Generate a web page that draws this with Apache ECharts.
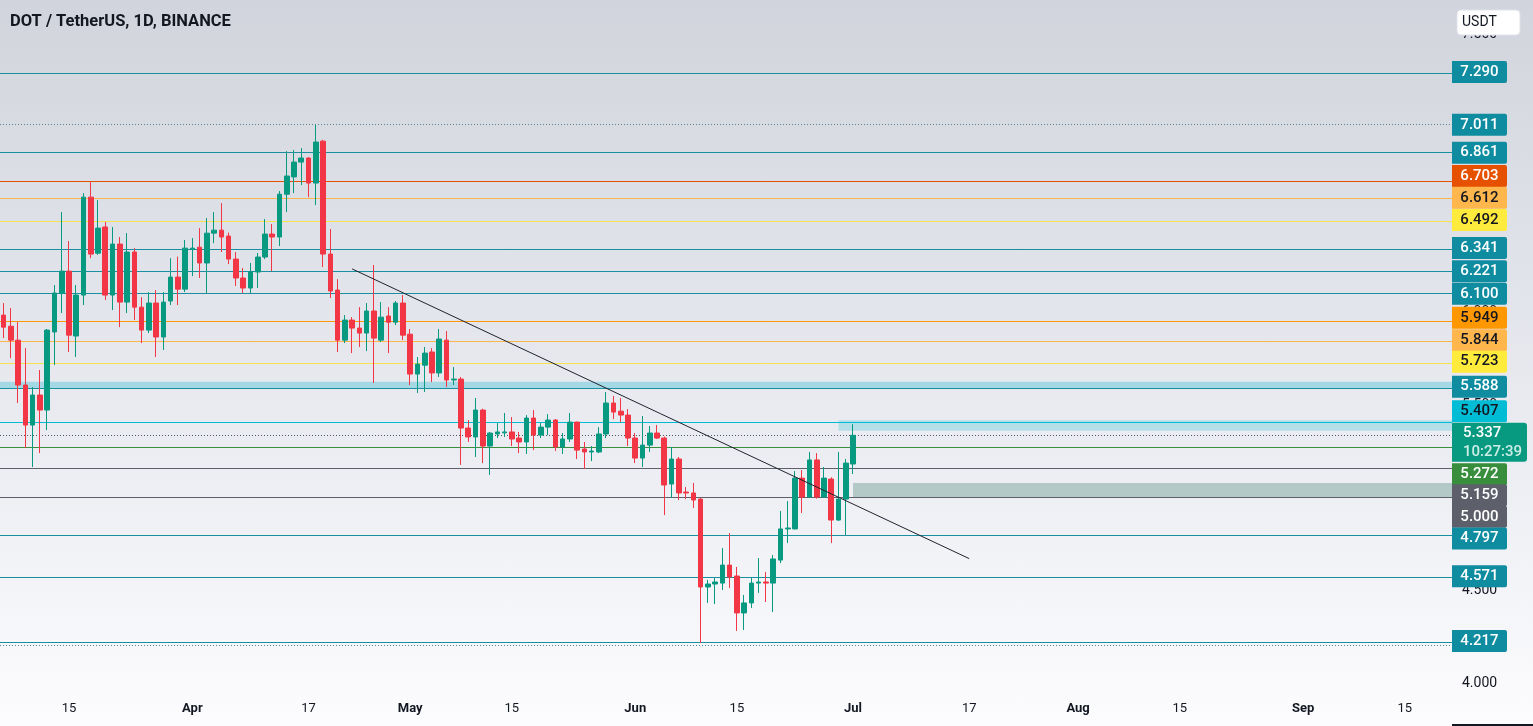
<!DOCTYPE html>
<html>
<head>
<meta charset="utf-8">
<script src="https://cdn.jsdelivr.net/npm/echarts@6/dist/echarts.min.js"></script>
<style>
html,body{margin:0;padding:0;overflow:hidden;}
#c{width:1533px;height:726px;background:linear-gradient(to bottom,#d1d4dc 0%,#e6e8ee 50%,#fcfcfe 100%);}
</style>
</head>
<body>
<div id="c"></div>
<script>
// ---- data ----
const firstDay = [2023, 2, 6];      // 2023-03-06
const dayCount = 200;               // visible days on the time axis
const opens  = [5.985,5.925,5.850,5.608,5.392,5.554,5.473,5.894,6.104,6.222,5.872,6.093,6.621,6.319,6.460,6.093,6.368,6.055,6.325,6.028,5.904,6.050,5.867,6.061,6.190,6.125,6.340,6.351,6.266,6.427,6.443,6.411,6.287,6.185,6.131,6.217,6.298,6.422,6.406,6.637,6.730,6.810,6.832,6.697,6.923,6.314,6.120,5.850,5.958,5.915,5.888,6.007,5.850,5.980,5.947,6.050,5.882,5.667,5.715,5.786,5.673,5.850,5.635,5.640,5.376,5.328,5.473,5.279,5.344,5.350,5.355,5.322,5.301,5.430,5.338,5.381,5.419,5.274,5.317,5.408,5.263,5.247,5.247,5.344,5.511,5.467,5.446,5.322,5.214,5.284,5.349,5.322,5.074,5.209,5.031,5.026,4.993,4.519,4.535,4.540,4.637,4.578,4.379,4.433,4.540,4.546,4.540,4.664,4.832,4.832,5.106,5.004,5.204,5.004,5.101,4.880,4.993,5.182];
const highs  = [6.050,6.023,5.947,5.807,5.597,5.689,5.910,6.147,6.540,6.384,6.147,6.643,6.702,6.605,6.487,6.460,6.406,6.427,6.346,6.082,6.109,6.120,6.109,6.292,6.300,6.390,6.400,6.454,6.508,6.540,6.589,6.430,6.325,6.239,6.266,6.320,6.503,6.476,6.654,6.869,6.875,6.885,6.835,7.011,6.930,6.449,6.179,5.985,5.974,6.028,6.050,6.255,6.055,6.028,6.061,6.093,5.910,5.759,5.813,5.807,5.910,5.899,5.705,5.651,5.419,5.538,5.480,5.355,5.403,5.457,5.435,5.355,5.446,5.473,5.403,5.451,5.425,5.349,5.457,5.410,5.301,5.279,5.381,5.570,5.549,5.538,5.478,5.349,5.441,5.387,5.392,5.330,5.274,5.220,5.058,5.080,4.999,4.557,4.567,4.729,4.810,4.627,4.476,4.573,4.675,4.600,4.691,4.929,4.982,5.144,5.150,5.247,5.241,5.166,5.110,5.247,5.209,5.397];
const lows   = [5.861,5.753,5.511,5.268,5.166,5.241,5.365,5.716,5.996,5.786,5.759,6.039,6.292,6.310,6.066,6.012,5.920,5.996,5.958,5.834,5.888,5.759,5.797,6.039,6.039,6.109,6.195,6.185,6.104,6.373,6.325,6.260,6.142,6.104,6.104,6.131,6.287,6.222,6.357,6.540,6.643,6.686,6.621,6.578,6.244,6.077,5.786,5.834,5.780,5.813,5.791,5.619,5.840,5.780,5.931,5.850,5.608,5.565,5.570,5.624,5.651,5.597,5.608,5.177,5.301,5.220,5.187,5.123,5.322,5.328,5.279,5.241,5.236,5.257,5.322,5.338,5.252,5.236,5.301,5.209,5.155,5.198,5.241,5.322,5.424,5.408,5.279,5.187,5.166,5.247,5.317,4.907,4.999,4.988,4.993,4.945,4.217,4.433,4.427,4.503,4.513,4.282,4.287,4.406,4.487,4.438,4.384,4.648,4.756,4.830,4.918,5.000,4.995,5.000,4.756,4.875,4.797,5.128];
const closes = [5.920,5.850,5.608,5.392,5.554,5.473,5.904,6.104,6.222,5.877,6.093,6.621,6.314,6.454,6.093,6.368,6.055,6.325,6.028,5.904,6.050,5.867,6.055,6.190,6.125,6.346,6.346,6.266,6.427,6.443,6.406,6.287,6.185,6.131,6.217,6.298,6.422,6.406,6.637,6.735,6.810,6.832,6.697,6.918,6.314,6.115,5.850,5.958,5.915,5.888,6.007,5.861,5.974,5.947,6.050,5.877,5.667,5.721,5.780,5.673,5.856,5.635,5.640,5.376,5.328,5.473,5.279,5.349,5.355,5.355,5.317,5.301,5.430,5.338,5.381,5.419,5.274,5.317,5.408,5.257,5.247,5.252,5.344,5.511,5.462,5.446,5.322,5.214,5.284,5.349,5.322,5.069,5.209,5.026,5.026,4.988,4.519,4.535,4.546,4.637,4.573,4.379,4.433,4.540,4.546,4.540,4.670,4.832,4.837,5.106,5.004,5.204,5.004,5.106,4.880,4.993,5.187,5.337];

const tickDates  = ['2023-03-15','2023-04-01','2023-04-17','2023-05-01','2023-05-15','2023-06-01','2023-06-15','2023-07-01','2023-07-17','2023-08-01','2023-08-15','2023-09-01','2023-09-15'];
const tickLabels = ['15','Apr','17','May','15','Jun','15','Jul','17','Aug','15','Sep','15'];

// horizontal price levels (with right-axis tags)
const levels     = [7.290,7.011,6.861,6.703,6.612,6.492,6.341,6.221,6.100,5.949,5.844,5.723,5.588,5.407,5.337,5.272,5.159,5.000,4.797,4.571,4.217];
const levelKinds = ['teal','tealDot','teal','deep','light','yellow','teal','teal','teal','orange','light','yellow','teal','cyan','current','green','gray','gray','teal','teal','teal'];
const guideLevels = [4.206];          // unlabelled dotted guide
const countdown = '10:27:39';

// rectangles
const zoneStarts = [null,'2023-06-29','2023-07-01'];
const zoneLows   = [5.588,5.362,5.000];
const zoneHighs  = [5.626,5.418,5.080];
const zoneKinds  = ['band','cyanBox','grayBox'];

// trend line
const trendDates  = ['2023-04-23','2023-07-17'];
const trendValues = [6.234,4.672];

// ---- styles / layout ----
const kindStyle = {
  teal:    {line:'#1a8fa0', dash:null,  box:'#0f8ca0', text:'#ffffff'},
  tealDot: {line:'#4f8796', dash:[1,2], box:'#0f8ca0', text:'#ffffff'},
  deep:    {line:'#e65100', dash:null,  box:'#e65100', text:'#ffffff'},
  light:   {line:'#ffb74d', dash:null,  box:'#ffb74d', text:'#131722'},
  yellow:  {line:'#f4e34a', dash:null,  box:'#ffeb3b', text:'#131722'},
  orange:  {line:'#ff9800', dash:null,  box:'#ff9800', text:'#131722'},
  cyan:    {line:'#00bcd4', dash:null,  box:'#00bcd4', text:'#131722'},
  current: {line:'#4a5a60', dash:[1,2], box:'#089981', text:'#ffffff'},
  green:   {line:'#388e3c', dash:null,  box:'#388e3c', text:'#ffffff'},
  gray:    {line:'#5d606b', dash:null,  box:'#5d606b', text:'#ffffff'}
};
const zoneColor = {band:'rgba(120,205,222,0.6)', cyanBox:'rgba(150,215,228,0.65)', grayBox:'rgba(130,170,162,0.55)'};
// vertical nudges (px) that keep the stacked right-axis tags from overlapping
const labelShift = [-1,0,0,-6,-1,-1,-1,0,0,-4,-1,-2,-2,-11,7,27,27,19,3,-1,-2];

const FONT = 'Roboto, "Open Sans", sans-serif';
const TAGFONT = '500 15px ' + FONT;
const GRID = {left:0, right:81, top:0, bottom:32};

// ---- build ----
const categories = [];
for (let i = 0; i < dayCount; i++) {
  const d = new Date(Date.UTC(firstDay[0], firstDay[1], firstDay[2] + i));
  categories.push(d.toISOString().slice(0,10));
}
const candleData = opens.map((o,i) => [o, closes[i], lows[i], highs[i]]);
const monthTicks = new Set(['Apr','May','Jun','Jul','Aug','Sep']);

const areaData = zoneLows.map((lo,i) => {
  const a = {yAxis: zoneHighs[i], itemStyle:{color: zoneColor[zoneKinds[i]]}};
  if (zoneStarts[i]) a.xAxis = zoneStarts[i];
  return [a, {yAxis: lo}];
});

const chart = echarts.init(document.getElementById('c'), null, {renderer:'canvas'});
chart.setOption({
  animation: false,
  backgroundColor: 'transparent',
  title: {text:'DOT / TetherUS, 1D, BINANCE', left: 10, top: 13, padding: 0,
          textStyle:{fontFamily: FONT, fontSize: 16.5, fontWeight: 'bold', color:'#131722'}},
  grid: GRID,
  xAxis: {
    type:'category', data: categories, boundaryGap: true,
    axisLine:{show:false}, axisTick:{show:false}, splitLine:{show:false},
    axisLabel:{
      interval: (idx, val) => tickDates.indexOf(val) >= 0,
      margin: 8, fontFamily: FONT, fontSize: 13, color:'#131722',
      formatter: (val) => {
        const k = tickDates.indexOf(val);
        if (k < 0) return '';
        return monthTicks.has(tickLabels[k]) ? '{m|' + tickLabels[k] + '}' : tickLabels[k];
      },
      rich: {m:{fontFamily: FONT, fontSize: 13, fontWeight:'bold', color:'#131722'}}
    }
  },
  yAxis: {
    type:'value', position:'right', min: 3.942, max: 7.684, splitNumber: 7, scale: true,
    axisLine:{show:false}, axisTick:{show:false}, splitLine:{show:false},
    axisLabel:{
      margin: 10, fontFamily: FONT, fontSize: 14, color:'#131722',
      formatter: v => (Math.abs(v*2 - Math.round(v*2)) < 1e-6 ? v.toFixed(3) : '')
    }
  },
  series: [
    {
      type:'candlestick', data: candleData, barWidth:'70%', z: 2,
      itemStyle:{color:'#089981', color0:'#f23645', borderColor:'#089981', borderColor0:'#f23645', borderWidth:1},
      markArea:{silent:true, z: 1, label:{show:false}, data: areaData}
    },
    {
      type:'line', z: 3, symbol:'none', silent:true,
      data: trendDates.map((d,i) => [d, trendValues[i]]),
      lineStyle:{color:'#1e222d', width:1}
    }
  ]
});

// ---- level lines (crisp, through the y scale) and right-axis price tags ----
const axisX = chart.getWidth() - GRID.right;
const toY = v => chart.convertToPixel({yAxisIndex:0}, v);
const crisp = y => Math.round(y - 0.5) + 0.5;
const gfx = [];
function levelLine(v, color, dash) {
  const y = crisp(toY(v));
  gfx.push({type:'line', z:1, silent:true, shape:{x1:0, y1:y, x2:axisX, y2:y},
            style:{stroke:color, lineWidth:1, lineDash: dash || null}});
}
levels.forEach((v,i) => { const s = kindStyle[levelKinds[i]]; levelLine(v, s.line, s.dash); });
guideLevels.forEach(v => levelLine(v, '#4f8796', [1,2]));

levels.forEach((v,i) => {
  const s = kindStyle[levelKinds[i]];
  const yc = toY(v) + labelShift[i];
  if (levelKinds[i] === 'current') {
    gfx.push({type:'rect', z:100, shape:{x:axisX, y:yc-19.5, width:75, height:39, r:[0,3,3,0]}, style:{fill:s.box}});
    gfx.push({type:'text', z:101, style:{text:v.toFixed(3), x:axisX+11, y:yc-9, fill:'#ffffff', font:TAGFONT, textVerticalAlign:'middle', verticalAlign:'middle'}});
    gfx.push({type:'text', z:101, style:{text:countdown, x:axisX+11, y:yc+10, fill:'#cdeee6', font:TAGFONT, textVerticalAlign:'middle', verticalAlign:'middle'}});
  } else {
    gfx.push({type:'rect', z:100, shape:{x:axisX, y:yc-11, width:55, height:22, r:[0,2,2,0]}, style:{fill:s.box},
      textContent:{z:101, style:{text:v.toFixed(3), fill:s.text, font:TAGFONT}}, textConfig:{position:'inside'}});
  }
});
// currency box and bottom edge mark
gfx.push({type:'rect', z:100, shape:{x:axisX+5, y:10, width:63, height:25, r:4}, style:{fill:'#ffffff', stroke:'#e0e3eb', lineWidth:1}});
gfx.push({type:'text', z:101, style:{text:'USDT', x:axisX+10, y:22.5, fill:'#131722', font:'14px ' + FONT, textVerticalAlign:'middle', verticalAlign:'middle'}});
gfx.push({type:'rect', z:100, shape:{x:axisX, y:724, width:81, height:2}, style:{fill:'#131722'}});
chart.setOption({graphic: gfx});
</script>
</body>
</html>
